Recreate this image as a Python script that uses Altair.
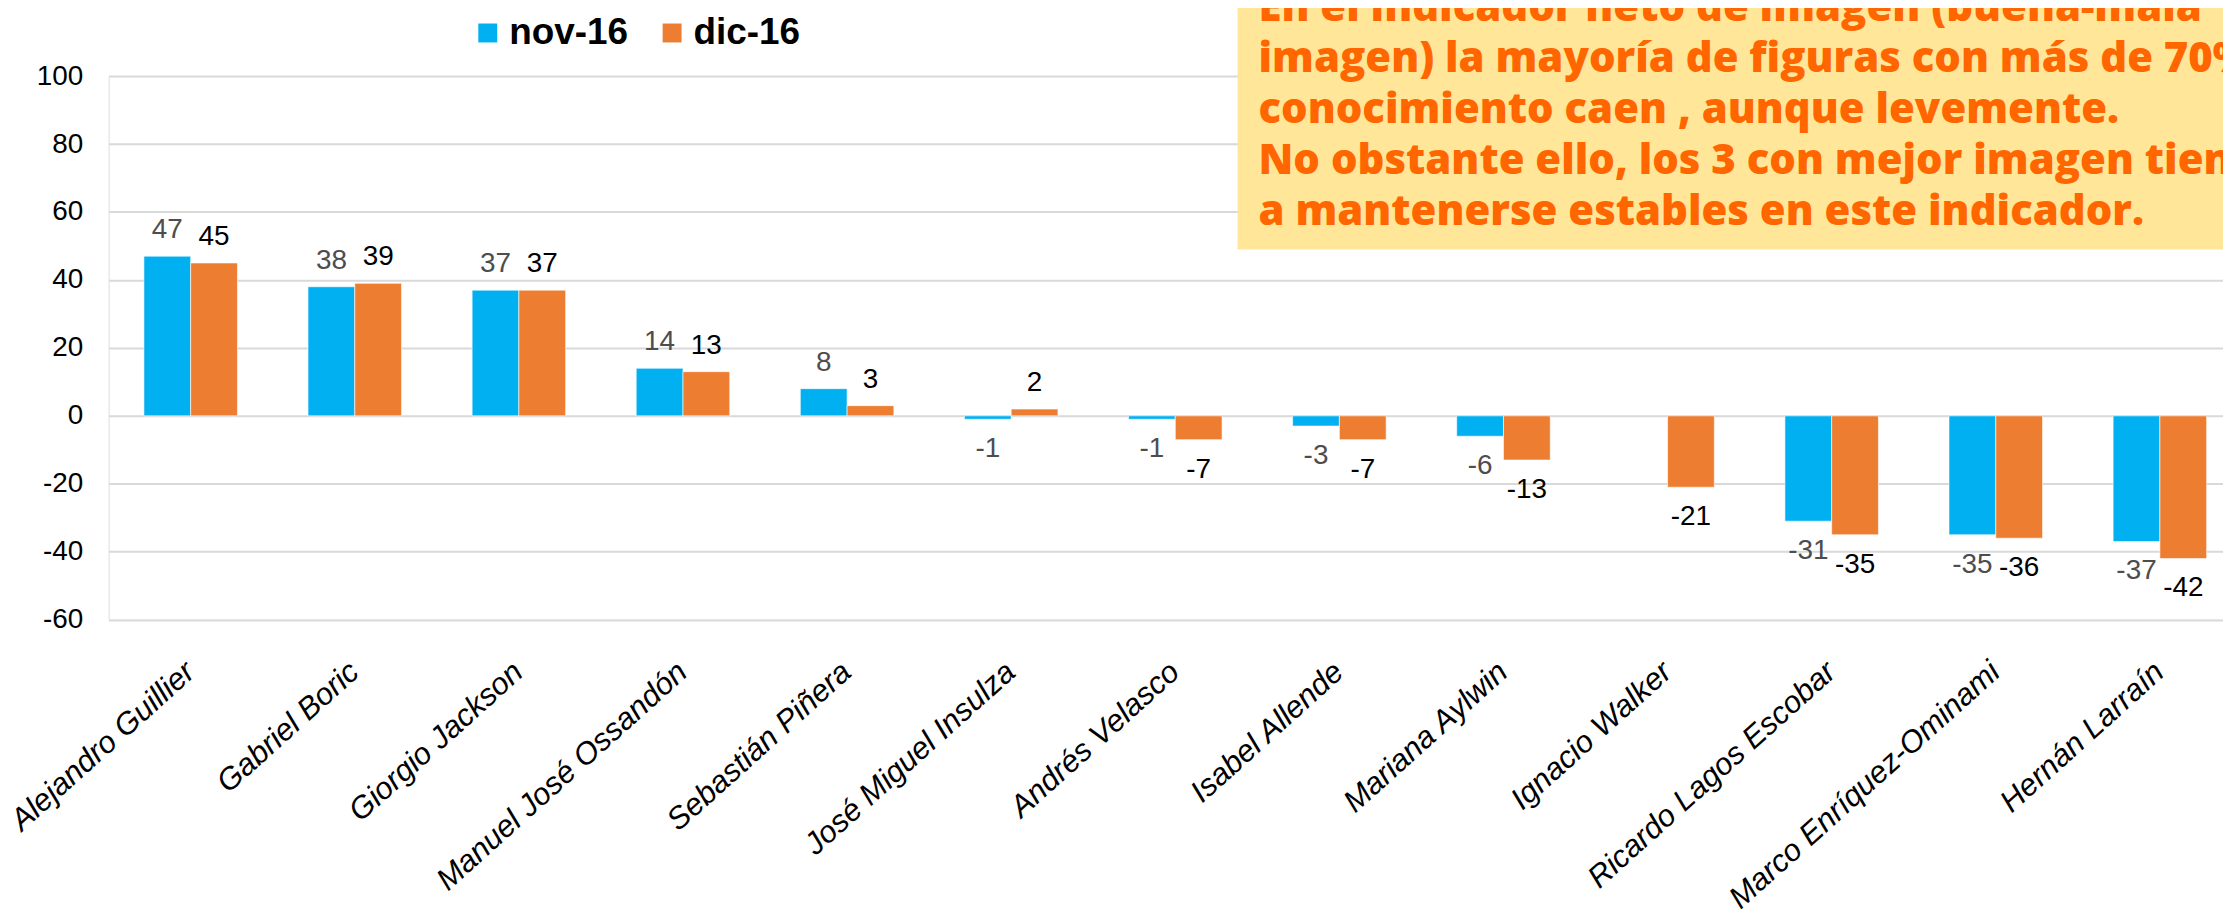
import altair as alt
import pandas as pd

# ---- data ----
figuras = ["Alejandro Guillier", "Gabriel Boric", "Giorgio Jackson", "Manuel José Ossandón",
           "Sebastián Piñera", "José Miguel Insulza", "Andrés Velasco", "Isabel Allende",
           "Mariana Aylwin", "Ignacio Walker", "Ricardo Lagos Escobar",
           "Marco Enríquez-Ominami", "Hernán Larraín"]
nov_16 = [47, 38, 37, 14, 8, -1, -1, -3, -6, None, -31, -35, -37]
dic_16 = [45, 39, 37, 13, 3, 2, -7, -7, -13, -21, -35, -36, -42]
series = ["nov-16", "dic-16"]
colores = ["#00B0F0", "#ED7D31"]
y_ticks = [-60, -40, -20, 0, 20, 40, 60, 80, 100]
nota = [
    "En el indicador neto de imagen (buena-mala",
    "imagen) la mayoría de figuras con más de 70% de",
    "conocimiento caen , aunque levemente.",
    "No obstante ello, los 3 con mejor imagen tienden",
    "a mantenerse estables en este indicador.",
]

rows = []
for i, f in enumerate(figuras):
    for s, vals in zip(series, [nov_16, dic_16]):
        v = vals[i]
        if v is not None:
            rows.append({"figura": f, "serie": s, "valor": v})
df = pd.DataFrame(rows)

W, H = 2122, 545.6
FONT = "Liberation Sans"

x_enc = alt.X("figura:N", sort=figuras,
              scale=alt.Scale(range=[0, 2141], paddingInner=0.43, paddingOuter=0.215),
              axis=alt.Axis(title=None, ticks=False, domain=False, grid=False,
                            labelAngle=-42, labelAlign="right", labelBaseline="middle",
                            labelPadding=48, labelFontSize=31, labelFont=FONT,
                            labelFontStyle="italic", labelColor="black", labelLimit=700))
xoff = alt.XOffset("serie:N", sort=series,
                   scale=alt.Scale(domain=series, paddingInner=0, paddingOuter=0))
y_enc = alt.Y("valor:Q", scale=alt.Scale(domain=[-60, 100], nice=False),
              axis=alt.Axis(title=None, values=y_ticks, ticks=False, domain=False,
                            grid=True, gridColor="#D9D9D9", gridWidth=2,
                            labelFontSize=28, labelFont=FONT, labelColor="black",
                            labelPadding=26, labelExpr="datum.value + ''"))

base = alt.Chart(df).transform_calculate(lbl="datum.valor + ''")

bars = base.mark_bar(stroke="white", strokeWidth=0.6).encode(
    x=x_enc, xOffset=xoff, y=y_enc,
    color=alt.Color("serie:N", sort=series,
                    scale=alt.Scale(domain=series, range=colores),
                    legend=alt.Legend(title=None, orient="none", direction="horizontal",
                                      legendX=362, legendY=-62, padding=0,
                                      symbolType="square", symbolSize=361,
                                      symbolStrokeWidth=0, symbolOpacity=1,
                                      labelFontSize=37, labelFont=FONT,
                                      labelFontWeight="bold", labelColor="black",
                                      labelOffset=3, columnPadding=25,
                                      labelLimit=300)),
)

txt_color = alt.condition("datum.serie == 'nov-16'", alt.value("#4D4D4D"), alt.value("black"))

pos_lbl = base.transform_filter("datum.valor >= 0").mark_text(
    baseline="middle", align="center", dy=-26, fontSize=28, font=FONT
).encode(x=x_enc, xOffset=xoff, y=y_enc, text="lbl:N", color=txt_color)

neg_lbl = base.transform_filter("datum.valor < 0").mark_text(
    baseline="middle", align="center", dy=30, fontSize=28, font=FONT
).encode(x=x_enc, xOffset=xoff, y=y_enc, text="lbl:N", color=txt_color)

caja = alt.Chart(alt.Data(values=[{}])).mark_rect(color="#FFE699").encode(
    x=alt.value(1133), x2=alt.value(2200), y=alt.value(-90), y2=alt.value(174)
)
nota_txt = alt.Chart(alt.Data(values=[{}])).mark_text(
    align="left", baseline="alphabetic", fontSize=42, font="Open Sans",
    fontWeight=800, color="#FF6600", lineHeight=51
).encode(x=alt.value(1154), y=alt.value(-55), text=alt.value(nota))

chart = alt.layer(bars, pos_lbl, neg_lbl, caja, nota_txt).properties(
    width=W, height=H,
    autosize=alt.AutoSizeParams(type="none"),
    padding={"left": 101, "top": 66.7, "right": 0, "bottom": 288.7},
).configure_view(stroke=None).configure(background="white")

chart.save("out.html", embed_options={"renderer": "svg", "actions": False})
